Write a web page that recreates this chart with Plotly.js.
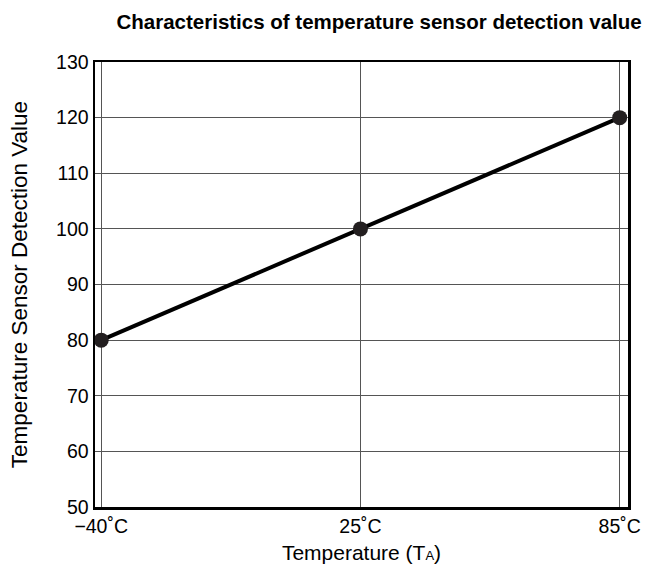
<!DOCTYPE html>
<html>
<head>
<meta charset="utf-8">
<script src="https://cdn.plot.ly/plotly-3.0.1.min.js"></script>
<style>html,body{margin:0;padding:0;background:#fff;}#chart{width:657px;height:566px;}</style>
</head>
<body>
<div id="chart"></div>
<script>
const categories = ["\u221240\u02DAC", "25\u02DAC", "85\u02DAC"];
const positions = [0, 1, 2];
const detectionValues = [80, 100, 120];
const yTicks = [50, 60, 70, 80, 90, 100, 110, 120, 130];

const font = "Liberation Sans, Arial, Helvetica, sans-serif";

Plotly.newPlot("chart", [{
  x: positions,
  y: detectionValues,
  type: "scatter",
  mode: "lines+markers",
  line: {color: "#000", width: 4},
  marker: {color: "#231f20", size: 15},
  cliponaxis: false,
  hoverinfo: "skip"
}], {
  width: 657,
  height: 566,
  margin: {l: 95, r: 29, t: 62, b: 59},
  paper_bgcolor: "#fff",
  plot_bgcolor: "#fff",
  showlegend: false,
  font: {family: font, color: "#000", size: 19},
  title: {
    text: "<b>Characteristics of temperature sensor detection value</b>",
    font: {family: font, size: 20.5, color: "#000"},
    x: 0.577, xanchor: "center", xref: "container",
    y: 0.962, yanchor: "middle", yref: "container"
  },
  xaxis: {
    range: [-0.024, 2.032],
    tickvals: positions,
    ticktext: categories,
    showgrid: true,
    gridcolor: "#555",
    gridwidth: 1,
    zeroline: false,
    showline: true,
    mirror: true,
    linecolor: "#000",
    linewidth: 2.5,
    ticks: "",
    tickfont: {family: font, size: 19.5, color: "#000"},
    title: {text: "Temperature (T<span style=\"font-size:13px\">A</span>)", font: {family: font, size: 21, color: "#000"}, standoff: 10}
  },
  yaxis: {
    range: [50, 130],
    tickvals: yTicks,
    showgrid: true,
    gridcolor: "#555",
    gridwidth: 1,
    zeroline: false,
    showline: true,
    mirror: true,
    linecolor: "#000",
    linewidth: 2.5,
    ticks: "",
    tickfont: {family: font, size: 19.5, color: "#000"},
    title: {text: "Temperature Sensor Detection Value", font: {family: font, size: 22.5, color: "#000"}, standoff: 22}
  }
}, {staticPlot: true, displayModeBar: false});
</script>
</body>
</html>
